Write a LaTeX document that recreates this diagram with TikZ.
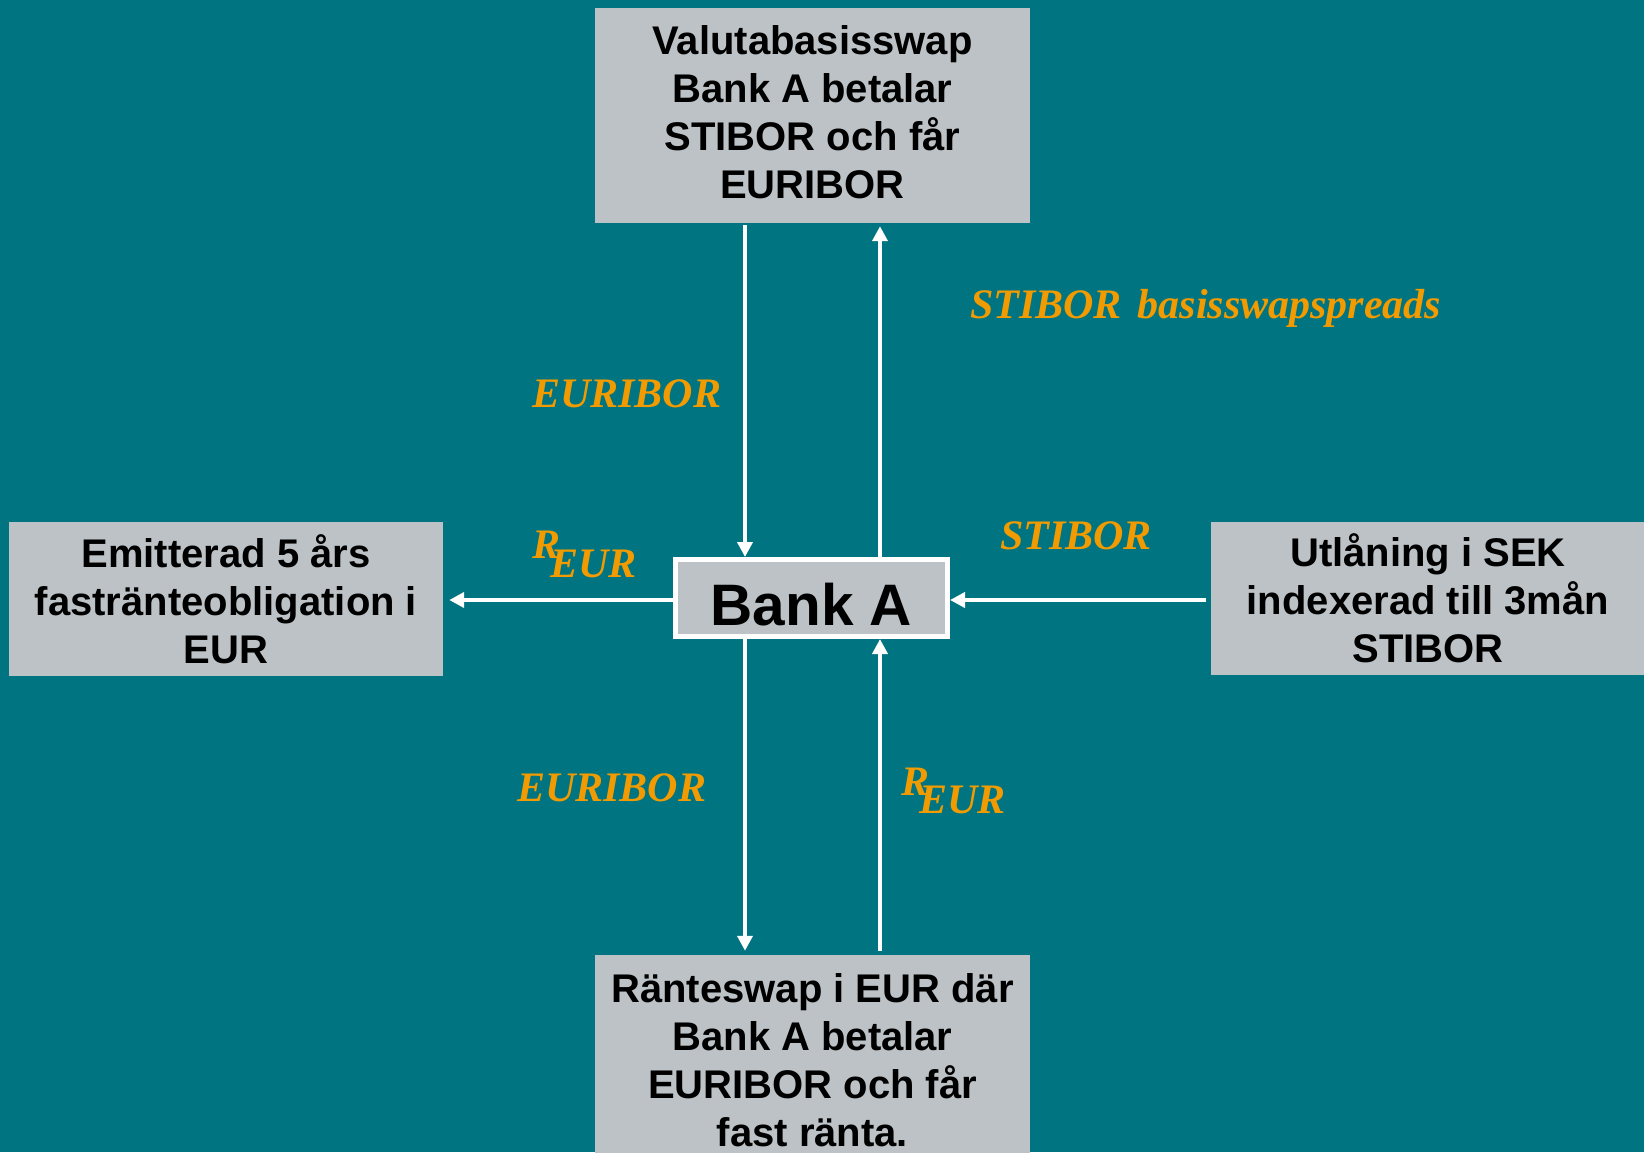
\documentclass[tikz,border=0pt]{standalone}
\usepackage{fontspec}
\setmainfont{Liberation Serif}
\setsansfont{Liberation Sans}
\usetikzlibrary{arrows.meta}
\definecolor{bgteal}{RGB}{0,116,128}
\definecolor{boxgray}{RGB}{188,194,197}
\definecolor{lblorange}{RGB}{242,155,0}
\begin{document}
\begin{tikzpicture}[x=1pt,y=-1pt,
  box/.style={fill=boxgray, draw=none, align=center, inner sep=0pt,
    font=\sffamily\bfseries\fontsize{40}{48}\selectfont},
  flow/.style={draw=white, line width=4.5pt, -{Triangle[width=15pt,length=15pt]}},
  lbl/.style={text=lblorange, inner sep=0pt, anchor=base west,
    font=\rmfamily\bfseries\itshape\fontsize{42}{48}\selectfont}]
\fill[bgteal] (0,0) rectangle (1644,1152);
\useasboundingbox (0,0) rectangle (1644,1152);

\node[box, minimum width=435pt, minimum height=215pt] (top) at (812.5,115.5)
  {Valutabasisswap\\Bank A betalar\\STIBOR och får\\EURIBOR\rule[-6pt]{0pt}{1pt}};
\node[box, minimum width=435pt, minimum height=210pt] (bot) at (812.5,1060)
  {Ränteswap i EUR där\\Bank A betalar\\EURIBOR och får\\fast ränta.};
\node[box, minimum width=434pt, minimum height=154pt] (left) at (226,599)
  {Emitterad 5 års\\fastränteobligation i\\EUR};
\node[box, minimum width=434pt, minimum height=153pt] (right) at (1428,598)
  {Utlåning i SEK\\indexerad till 3mån\\STIBOR};
\node[fill=boxgray, draw=white, line width=5pt, minimum width=272pt, minimum height=77pt,
  inner sep=0pt, text height=54pt, text depth=0pt,
  font=\sffamily\bfseries\fontsize{58.5}{60}\selectfont] (bank) at (811.5,598) {Bank A};

\coordinate (xa) at (745,0);
\coordinate (xb) at (880,0);
\coordinate (ya) at (0,600);

\draw[flow] ([yshift=-2pt]top.south -| xa) -- (bank.north -| xa);
\draw[flow] (bank.north -| xb) -- ([yshift=-3pt]top.south -| xb);
\draw[flow] (bank.south -| xa) -- ([yshift=4pt]bot.north -| xa);
\draw[flow] ([yshift=4pt]bot.north -| xb) -- (bank.south -| xb);
\draw[flow] (bank.west |- ya) -- ([xshift=6pt]left.east |- ya);
\draw[flow] ([xshift=-5pt]right.west |- ya) -- (bank.east |- ya);

\node[lbl] (l1) at (532,407) {EURIBOR};
\node[lbl] (l2) at (970,318) {STIBOR\hspace{16pt}basisswapspreads};
\node[lbl] (l3) at (1000,549) {STIBOR};
\node[lbl] (l4) at (517,801) {EURIBOR};
\node[lbl] (r1) at (532,558) {R};
\node[lbl] (e1) at (550,577) {EUR};
\node[lbl] (r2) at (901,795) {R};
\node[lbl] (e2) at (919,813) {EUR};
\end{tikzpicture}
\end{document}
